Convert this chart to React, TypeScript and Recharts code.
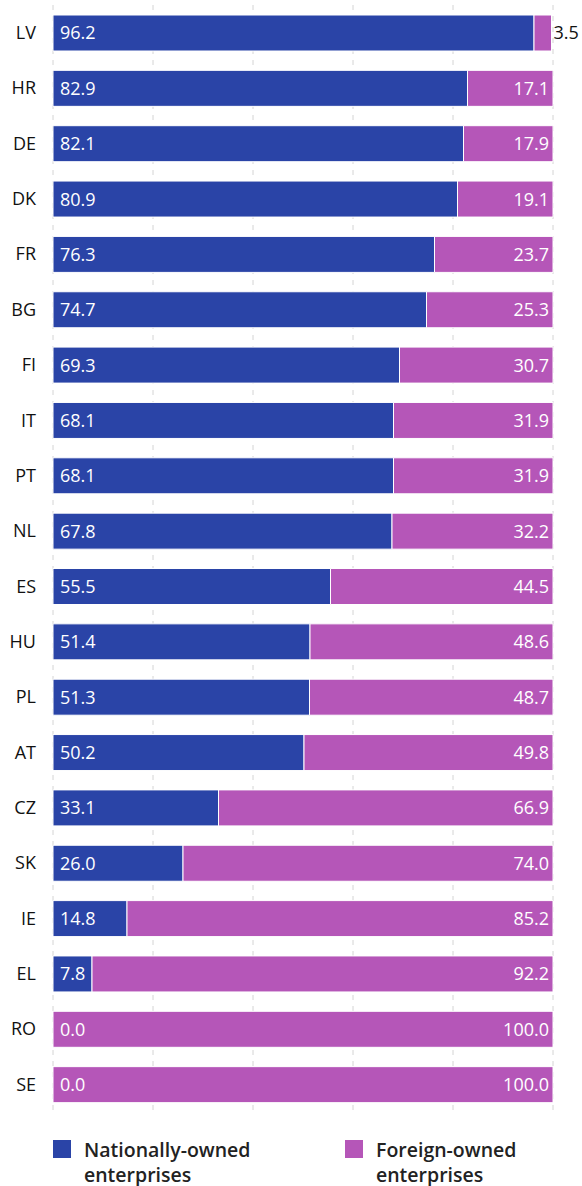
import React from "react"
import { BarChart, Bar, XAxis, YAxis, CartesianGrid, LabelList } from "recharts"

const countries = ["LV", "HR", "DE", "DK", "FR", "BG", "FI", "IT", "PT", "NL", "ES", "HU", "PL", "AT", "CZ", "SK", "IE", "EL", "RO", "SE"]
const nationalShare = [96.2, 82.9, 82.1, 80.9, 76.3, 74.7, 69.3, 68.1, 68.1, 67.8, 55.5, 51.4, 51.3, 50.2, 33.1, 26.0, 14.8, 7.8, 0.0, 0.0]
const foreignShare = [3.5, 17.1, 17.9, 19.1, 23.7, 25.3, 30.7, 31.9, 31.9, 32.2, 44.5, 48.6, 48.7, 49.8, 66.9, 74.0, 85.2, 92.2, 100.0, 100.0]
const xTicks = [0, 20, 40, 60, 80, 100]

const BLUE = "#2a44a7"
const PINK = "#b556b8"
const FONT = "'Open Sans', 'Noto Sans', sans-serif"
const LABEL_SIZE = 18

const data = countries.map((name, i) => ({
  name,
  national: nationalShare[i],
  foreign: foreignShare[i],
}))

const NationalLabel = (props: any) => {
  const { x, y, height, value } = props
  if (!value) return null
  return (
    <text x={x + 7} y={y + height / 2} dy="0.36em" fill="#fff" fontSize={LABEL_SIZE} fontFamily={FONT}>
      {Number(value).toFixed(1)}
    </text>
  )
}

const ForeignLabel = (props: any) => {
  const { x, y, width, height, value, index } = props
  const cy = y + height / 2
  const zeroNational = nationalShare[index] === 0
  return (
    <g>
      {zeroNational && (
        // the national bar has no width, so its 0.0 is drawn here
        <text x={x + 7} y={cy} dy="0.36em" fill="#fff" fontSize={LABEL_SIZE} fontFamily={FONT}>
          {(0).toFixed(1)}
        </text>
      )}
      {value < 10 ? (
        <text x={x + width + 2} y={cy} dy="0.36em" fill="#111" fontSize={LABEL_SIZE} fontFamily={FONT}>
          {Number(value).toFixed(1)}
        </text>
      ) : (
        <text x={x + width - 4} y={cy} dy="0.36em" fill="#fff" fontSize={LABEL_SIZE} fontFamily={FONT} textAnchor="end">
          {Number(value).toFixed(1)}
        </text>
      )}
    </g>
  )
}

const legendItems = [
  { color: BLUE, lines: ["Nationally-owned", "enterprises"], left: 53 },
  { color: PINK, lines: ["Foreign-owned", "enterprises"], left: 345 },
]

export default function App() {
  return (
    <div style={{ position: "absolute", left: 0, top: 0, width: 582, height: 1186, background: "#fff" }}>
      <BarChart
        width={582}
        height={1186}
        data={data}
        layout="vertical"
        barSize={36}
        margin={{ top: 5, right: 29, left: 0, bottom: 74 }}
      >
        <CartesianGrid horizontal={false} stroke="#d4d4d4" strokeDasharray="5 6" />
        <XAxis type="number" domain={[0, 100]} ticks={xTicks} hide />
        <YAxis
          type="category"
          dataKey="name"
          width={53}
          axisLine={false}
          tickLine={false}
          tickSize={0}
          tickMargin={17}
          tick={{ fill: "#111", fontSize: LABEL_SIZE, fontFamily: FONT }}
        />
        <Bar dataKey="national" stackId="a" fill={BLUE} stroke="#fff" strokeWidth={1} isAnimationActive={false}>
          <LabelList dataKey="national" content={NationalLabel} />
        </Bar>
        <Bar dataKey="foreign" stackId="a" fill={PINK} stroke="#fff" strokeWidth={1} isAnimationActive={false}>
          <LabelList dataKey="foreign" content={ForeignLabel} />
        </Bar>
      </BarChart>
      {legendItems.map((it) => (
        <div key={it.lines[0]} style={{ position: "absolute", left: it.left, top: 1140, display: "flex", fontFamily: FONT }}>
          <div style={{ width: 18, height: 18, background: it.color }} />
          <div style={{ marginLeft: 13, fontSize: 19.5, fontWeight: 600, color: "#222", lineHeight: "25px", marginTop: -3 }}>
            {it.lines[0]}
            <br />
            {it.lines[1]}
          </div>
        </div>
      ))}
    </div>
  )
}
